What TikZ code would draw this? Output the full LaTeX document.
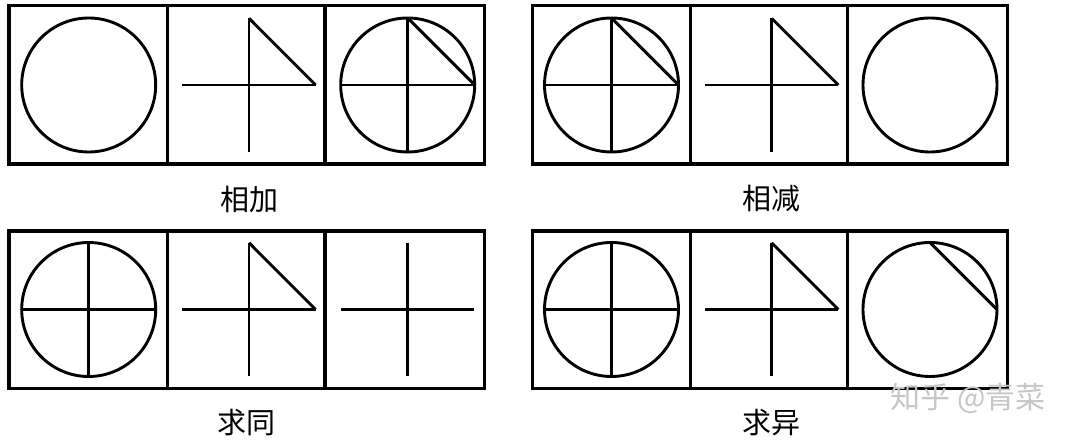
\documentclass[tikz,border=0pt]{standalone}
\usepackage{fontspec}
\newfontfamily\cjk{Noto Sans CJK SC}
\begin{document}
\begin{tikzpicture}[x=1pt,y=-1pt,
  panelbox/.style={draw=black,line width=3.3pt},
  figline/.style={draw=black,line width=2.9pt},
  caption/.style={font=\cjk\fontsize{29}{29}\selectfont,inner sep=0pt}]
\useasboundingbox (0,0) rectangle (1080,443);
\fill[white] (0,0) rectangle (1080,443);
\def\RC{67}\def\RX{66.6}\def\RY{66.7}
\newcommand\circfig{\draw[figline] (0,0) circle [radius=\RC];}
\newcommand\crossfig{\draw[figline] (-\RX,0) -- (\RX,0) (0,-\RY) -- (0,\RY);}
\newcommand\trifig{\draw[figline] (0,-\RY) -- (\RX,0);}
\newcommand\chordfig{\draw[figline] (0,-\RC) -- (\RC,0);}
% ---------- top-left: 相加
\draw[panelbox] (9,5.5) rectangle (484.7,164) (167.3,5.5) -- (167.3,164) (325,5.5) -- (325,164);
\begin{scope}[shift={(88.7,85)}]\circfig\end{scope}
\begin{scope}[shift={(249,85)}]\crossfig\trifig\end{scope}
\begin{scope}[shift={(407.7,85)}]\circfig\crossfig\chordfig\end{scope}
\node[caption] (t1) at (249,199) {相加};
% ---------- top-right: 相减
\draw[panelbox] (532.3,5.5) rectangle (1007.3,164) (690.3,5.5) -- (690.3,164) (847.7,5.5) -- (847.7,164);
\begin{scope}[shift={(611.5,85)}]\circfig\crossfig\chordfig\end{scope}
\begin{scope}[shift={(771.7,85)}]\crossfig\trifig\end{scope}
\begin{scope}[shift={(930,85)}]\circfig\end{scope}
\node[caption] (t2) at (771.7,199) {相减};
% ---------- bottom-left: 求同
\draw[panelbox] (9,231) rectangle (484.7,388.7) (167.3,231) -- (167.3,388.7) (325,231) -- (325,388.7);
\begin{scope}[shift={(88.7,309.5)}]\circfig\crossfig\end{scope}
\begin{scope}[shift={(249,309.5)}]\crossfig\trifig\end{scope}
\begin{scope}[shift={(407.5,309.5)}]\crossfig\end{scope}
\node[caption] (t3) at (246,422.5) {求同};
% ---------- bottom-right: 求异
\draw[panelbox] (532.3,231) rectangle (1007.3,388.7) (690.3,231) -- (690.3,388.7) (847.7,231) -- (847.7,388.7);
\begin{scope}[shift={(611.5,309.5)}]\circfig\crossfig\end{scope}
\begin{scope}[shift={(771.7,309.5)}]\crossfig\trifig\end{scope}
\begin{scope}[shift={(930,309.5)}]\circfig\chordfig\end{scope}
\node[caption] (t4) at (771.7,422.5) {求异};
% watermark
\node[font=\cjk\fontsize{30}{30}\selectfont,text=gray!45,inner sep=0pt] (wm) at (968,398.5) {知乎 @青菜};
\end{tikzpicture}
\end{document}
